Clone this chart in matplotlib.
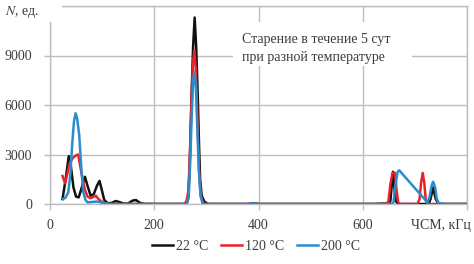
import matplotlib
matplotlib.use("Agg")
import matplotlib.pyplot as plt
from matplotlib.patches import Rectangle

plt.rcParams['font.family'] = ['Liberation Serif', 'DejaVu Serif']
plt.rcParams['mathtext.fontset'] = 'stix'

# ---- data ----
x_22 = [24, 30, 36, 40, 45, 50, 55, 61, 67, 72, 78, 84, 90, 95, 99, 104, 110, 118, 126, 133, 142,
        150, 158, 165, 172, 180, 200, 262, 265, 267, 269, 271.5, 274.5, 277.5, 280.5, 283.5, 286,
        288, 291, 296, 303, 380, 390, 400, 620, 640, 650, 653, 658, 663, 668, 726, 730, 735, 740,
        746, 800]
y_22 = [300, 1500, 2900, 2300, 1000, 450, 400, 1000, 1650, 1100, 500, 600, 1100, 1400, 900, 250, 60, 60, 180, 120, 20,
        30, 200, 240, 80, 10, 0, 0, 300, 1500, 3500, 6500, 9500, 11300, 9500, 6500, 3500,
        1500, 500, 150, 0, 0, 50, 0, 0, 30, 0, 200, 1950, 200, 0, 0, 300, 1000, 300,
        0, 0]

x_120 = [24, 29, 33, 38, 44, 50, 54, 58, 62, 67, 72, 78, 84, 88, 93, 100, 108, 120, 258, 262, 265,
         268, 271, 274, 277, 280, 283, 286, 289, 293, 640, 649, 653, 657, 662, 665, 668, 672, 705,
         709, 712, 715, 718, 721, 725, 800]
y_120 = [1700, 1250, 1800, 2500, 2800, 2950, 3000, 2300, 1600, 850, 450, 350, 450, 500, 300, 120, 20, 0, 0, 200, 700,
         2500, 5800, 8500, 9300, 8000, 5000, 2000, 500, 0, 0, 100, 1200, 1880, 1880, 800, 100, 0, 0,
         300, 1300, 1880, 1300, 200, 0, 0]

x_200 = [25, 30, 35, 39, 43, 46, 49, 52, 56, 60, 64, 68, 72, 80, 90, 100, 110, 120, 262, 266, 269,
         272, 275, 277.5, 280, 283, 286, 289, 294, 385, 390, 395, 655, 659, 663, 667, 670, 724, 728,
         732, 735, 739, 742, 746, 760, 800]
y_200 = [300, 400, 700, 1800, 3800, 5000, 5500, 5200, 4200, 2200, 700, 250, 100, 120, 150, 80, 20, 0, 0, 400, 2500,
         5500, 7600, 8000, 7000, 4200, 1800, 500, 0, 0, 60, 0, 0, 100, 1200, 1950, 2040, 100, 400,
         1100, 1350, 1000, 300, 50, 0, 0]

series_labels = ['22 °C', '120 °C', '200 °C']
x_ticks = [0, 200, 400, 600, 800]
x_tick_labels = ['0', '200', '400', '600', '']
y_ticks = [0, 3000, 6000, 9000, 12000]
y_tick_labels = ['0', '3000', '6000', '9000', '']

W, H = 474, 264
fig = plt.figure(figsize=(W / 100, H / 100), dpi=100)
ax = fig.add_axes([50 / W, 1 - 204 / H, (467 - 50) / W, (204 - 6) / H])

grid_c = '#bdbdbd'
text_c = '#3c3c3c'

ax.plot(x_22, y_22, color='#111111', lw=1.8, label=series_labels[0], zorder=3)
ax.plot(x_120, y_120, color='#e8222a', lw=1.8, label=series_labels[1], zorder=4)
ax.plot(x_200, y_200, color='#2b8ccc', lw=1.8, label=series_labels[2], zorder=5)

ax.set_xlim(0, 800)
ax.set_ylim(0, 12000)
ax.set_xticks(x_ticks)
ax.set_xticklabels(x_tick_labels)
ax.set_yticks(y_ticks)
ax.set_yticklabels(y_tick_labels)
ax.grid(True, color=grid_c, lw=1.0, zorder=0)
ax.set_axisbelow(True)
for s in ax.spines.values():
    s.set_color(grid_c)
    s.set_linewidth(1.0)
ax.tick_params(axis='both', colors=grid_c, labelcolor=text_c, labelsize=10, length=4, width=1.0)
ax.tick_params(axis='x', pad=7)
ax.tick_params(axis='y', pad=9)

# white box covering the grid behind the note
ax.add_patch(Rectangle((233 / W, 1 - 66 / H), (412 - 233) / W, (66 - 22) / H,
                       transform=fig.transFigure, facecolor='white', edgecolor='none',
                       zorder=2, clip_on=False))
fig.text(242 / W, 1 - 40 / H, 'Старение в течение 5 сут', ha='left', va='center',
         fontsize=10, color=text_c, zorder=6)
fig.text(242 / W, 1 - 57 / H, 'при разной температуре', ha='left', va='center',
         fontsize=10, color=text_c, zorder=6)

# y-axis label in the top-left corner
fig.patches.append(Rectangle((0, 1 - 22 / H), 62 / W, 22 / H, transform=fig.transFigure,
                             facecolor='white', edgecolor='none', zorder=5))
fig.text(5 / W, 1 - 12 / H, r'$N$, ед.', ha='left', va='center', fontsize=10,
         color=text_c, zorder=6)

# x-axis label at the right end
fig.text(471 / W, 1 - 226 / H, 'ЧСМ, кГц', ha='right', va='center', fontsize=10,
         color=text_c)

fig.legend(loc='center', bbox_to_anchor=(256 / W, 1 - 246 / H), ncol=3, frameon=False,
           fontsize=10, handlelength=1.5, handletextpad=0.25, columnspacing=0.9,
           labelcolor=text_c)

fig.savefig('out.png', dpi=100)
